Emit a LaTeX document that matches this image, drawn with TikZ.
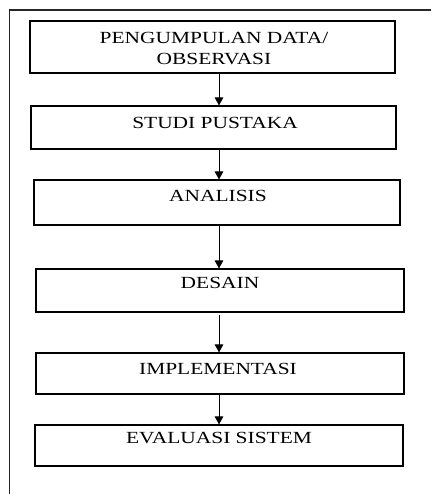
\documentclass[tikz,border=0pt]{standalone}
\usepackage{fontspec}
\setmainfont{Liberation Serif}[FakeStretch=1.26]
\usetikzlibrary{arrows.meta}

\tikzset{
  stepbox/.style={draw, line width=1.1pt, inner sep=0pt},
  steptext/.style={anchor=north, inner sep=0pt, align=center, font=\fontsize{17}{21}\selectfont},
  flow/.style={-{Triangle[width=8.5pt,length=8pt]}, line width=1pt}
}

\begin{document}
\begin{tikzpicture}[x=1pt, y=-1pt]
    \useasboundingbox (0,0) rectangle (431,494);

    % frame
    \draw[line width=1.2pt, black!85] (9.5,494) -- (9.5,10) -- (431,10);

    \node[stepbox, minimum width=365pt, minimum height=52pt] (b1) at (212.5,47) {};
    \node[stepbox, minimum width=365pt, minimum height=43pt] (b2) at (213.5,127.5) {};
    \node[stepbox, minimum width=366pt, minimum height=45pt] (b3) at (217,202.5) {};
    \node[stepbox, minimum width=368pt, minimum height=43pt] (b4) at (220,290.5) {};
    \node[stepbox, minimum width=368pt, minimum height=41pt] (b5) at (220,373.5) {};
    \node[stepbox, minimum width=368pt, minimum height=41pt] (b6) at (219,445.5) {};

    \node[steptext] (t1) at (214,32) {PENGUMPULAN DATA/\\OBSERVASI};
    \node[steptext] (t2) at (215,117) {STUDI PUSTAKA};
    \node[steptext] (t3) at (218,190) {ANALISIS};
    \node[steptext] (t4) at (220,277) {DESAIN};
    \node[steptext] (t5) at (218,363) {IMPLEMENTASI};
    \node[steptext] (t6) at (219,432) {EVALUASI SISTEM};

    % arrows
    \coordinate (axis) at (219,0);
    \draw[flow] (b1.south -| axis) -- (b2.north -| axis);
    \draw[flow] (b2.south -| axis) -- (b3.north -| axis);
    \draw[flow] (b3.south -| axis) -- (b4.north -| axis);
    \draw[flow] ([yshift=-2pt]b4.south -| axis) -- (b5.north -| axis);
    \draw[flow] (b5.south -| axis) -- (b6.north -| axis);
\end{tikzpicture}
\end{document}
